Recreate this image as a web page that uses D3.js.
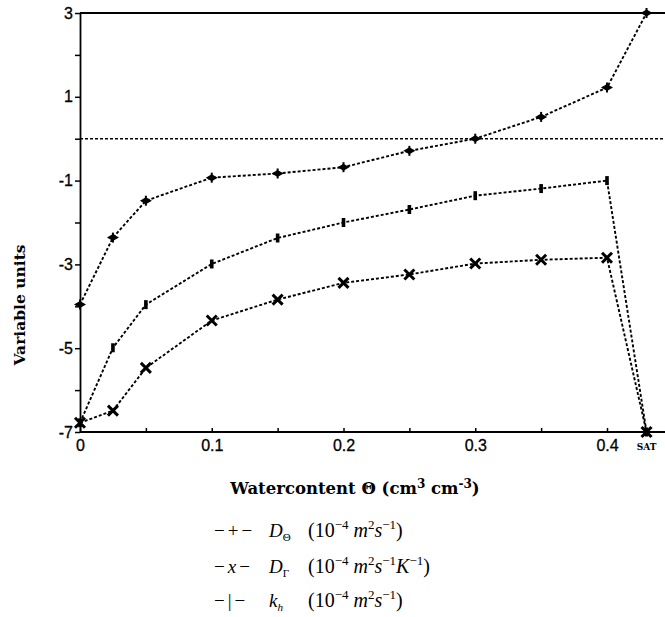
<!DOCTYPE html>
<html>
<head>
<meta charset="utf-8">
<script src="https://cdn.jsdelivr.net/npm/d3@7"></script>
<style>
  body { margin: 0; background: #fff; }
  svg { display: block; }
</style>
</head>
<body>
<div id="chart"></div>
<script>
// water content (SAT plotted at 0.43)
const theta = [0, 0.025, 0.05, 0.1, 0.15, 0.2, 0.25, 0.3, 0.35, 0.4, 0.43];
const dThetaVals = [-3.96, -2.36, -1.48, -0.93, -0.83, -0.68, -0.29, 0.0, 0.52, 1.22, 3.0];
const dTVals = [-6.78, -6.49, -5.47, -4.34, -3.84, -3.44, -3.24, -2.98, -2.89, -2.84, -7.0];
const khVals = [-6.78, -4.99, -3.96, -2.99, -2.37, -2.0, -1.69, -1.36, -1.19, -1.0, -7.0];
const xTicks = [0, 0.05, 0.1, 0.15, 0.2, 0.25, 0.3, 0.35, 0.4];
const xLabels = [0, 0.1, 0.2, 0.3, 0.4];
const yTicks = [-7, -6, -5, -4, -3, -2, -1, 0, 1, 2, 3];
const yLabels = [-7, -5, -3, -1, 1, 3];

const W = 665, H = 617;
const svg = d3.select("#chart").append("svg")
    .attr("width", W).attr("height", H);

const x = d3.scaleLinear().domain([0, 0.4]).range([80, 607]);
const y = d3.scaleLinear().domain([-7, 3]).range([432, 13]);

const sans = "'Liberation Sans', Arial, sans-serif";
const wideSerif = "'DejaVu Serif', serif";
const serif = "'Liberation Serif', 'Times New Roman', serif";

// frame: top line, zero reference line
svg.append("line")
    .attr("x1", x(0)).attr("x2", W)
    .attr("y1", y(3)).attr("y2", y(3))
    .attr("stroke", "#000").attr("stroke-width", 2);

svg.append("line")
    .attr("x1", x(0)).attr("x2", W)
    .attr("y1", y(0)).attr("y2", y(0))
    .attr("stroke", "#000").attr("stroke-width", 1.6)
    .attr("stroke-dasharray", "3,2");

// x axis
const xAxis = svg.append("g")
    .attr("transform", `translate(0,${y(-7)})`)
    .call(d3.axisBottom(x)
        .tickValues(xTicks)
        .tickSizeInner(-4).tickSizeOuter(0)
        .tickPadding(8)
        .tickFormat(d => xLabels.some(v => Math.abs(v - d) < 1e-9) ? +d.toFixed(2) : ""));
xAxis.select(".domain").remove();
xAxis.selectAll(".tick line").attr("stroke-width", 1.5);
xAxis.selectAll("text")
    .style("font-family", sans)
    .style("font-size", "16px").attr("fill", "#000")
    .attr("stroke", "#000").attr("stroke-width", 0.3);
xAxis.append("line")
    .attr("x1", x(0)).attr("x2", W)
    .attr("stroke", "#000").attr("stroke-width", 2);

svg.append("text")
    .attr("x", x(0.43)).attr("y", y(-7) + 18)
    .attr("text-anchor", "middle")
    .style("font-family", wideSerif)
    .style("font-weight", "bold").style("font-size", "9px")
    .text("SAT");

// y axis
const yAxis = svg.append("g")
    .attr("transform", `translate(${x(0)},0)`)
    .call(d3.axisLeft(y)
        .tickValues(yTicks)
        .tickSizeInner(5).tickSizeOuter(0)
        .tickPadding(2)
        .tickFormat(d => yLabels.includes(d) ? d : ""));
yAxis.select(".domain").attr("stroke-width", 1.8);
yAxis.selectAll(".tick line").attr("stroke-width", 1.5);
yAxis.selectAll("text")
    .style("font-family", sans)
    .style("font-size", "16px").attr("fill", "#000")
    .attr("stroke", "#000").attr("stroke-width", 0.3);

// axis titles
svg.append("text")
    .attr("transform", "translate(25,305) rotate(-90)")
    .attr("text-anchor", "middle")
    .style("font-family", wideSerif)
    .style("font-weight", "bold").style("font-size", "15.5px")
    .text("Variable units");

const xt = svg.append("text")
    .attr("x", 355).attr("y", 494)
    .attr("text-anchor", "middle")
    .style("font-family", wideSerif)
    .style("font-weight", "bold").style("font-size", "16.5px");
xt.append("tspan").text("Watercontent Θ (cm");
xt.append("tspan").attr("dy", -6).style("font-size", "12px").text("3");
xt.append("tspan").attr("dy", 6).text(" cm");
xt.append("tspan").attr("dy", -6).style("font-size", "12px").text("-3");
xt.append("tspan").attr("dy", 6).text(")");

// series
const series = [
    { name: "dTheta", values: dThetaVals, marker: "plus" },
    { name: "kh", values: khVals, marker: "bar" },
    { name: "dT", values: dTVals, marker: "cross" }
];

const line = d3.line().x(d => x(d[0])).y(d => y(d[1]));

series.forEach(s => {
    const pts = theta.map((t, i) => [t, s.values[i]]);
    svg.append("path")
        .datum(pts)
        .attr("d", line)
        .attr("fill", "none")
        .attr("stroke", "#000").attr("stroke-width", 1.9)
        .attr("stroke-dasharray", "3,2");

    const g = svg.append("g").selectAll("g")
        .data(pts).enter().append("g")
        .attr("transform", d => `translate(${x(d[0])},${y(d[1])})`);

    if (s.marker === "plus") {
        g.append("path").attr("d", "M-6,0L0,-3.5L6,0L0,3.5Z").attr("fill", "#000");
        g.append("path").attr("d", "M0,-5V5").attr("stroke", "#000").attr("stroke-width", 2);
    } else if (s.marker === "bar") {
        g.append("rect").attr("x", -1.8).attr("y", -4.5)
            .attr("width", 3.6).attr("height", 9).attr("fill", "#000");
    } else {
        g.append("path").attr("d", "M-5,-5L5,5M-5,5L5,-5")
            .attr("stroke", "#000").attr("stroke-width", 3);
    }
});

// legend
const legend = [
    { sym: ["−", "+", "−"], main: "D", sub: "Θ", unit: [["(10", 0], ["−4", 1], [" m", 2], ["2", 3], ["s", 2], ["−1", 3], [")", 0]] },
    { sym: ["−", "x", "−"], main: "D", sub: "Γ", unit: [["(10", 0], ["−4", 1], [" m", 2], ["2", 3], ["s", 2], ["−1", 3], ["K", 2], ["−1", 3], [")", 0]] },
    { sym: ["−", "|", "−"], main: "k", sub: "h", unit: [["(10", 0], ["−4", 1], [" m", 2], ["2", 3], ["s", 2], ["−1", 3], [")", 0]] }
];
const legendY = [537, 573, 607];

legend.forEach((l, i) => {
    const t1 = svg.append("text").attr("x", 214).attr("y", legendY[i])
        .style("font-family", serif).style("font-size", "19px")
        .style("letter-spacing", "3px");
    l.sym.forEach(s => t1.append("tspan").style("font-style", s === "x" ? "italic" : "normal").text(s));

    const t2 = svg.append("text").attr("x", 269).attr("y", legendY[i])
        .style("font-family", serif).style("font-size", "19px");
    t2.append("tspan").style("font-style", "italic").text(l.main);
    t2.append("tspan").attr("dy", 4).style("font-size", "11px")
        .style("font-style", l.sub === "h" ? "italic" : "normal").text(l.sub);

    const t3 = svg.append("text").attr("x", 308).attr("y", legendY[i])
        .style("font-family", serif).style("font-size", "20px");
    let sup = false;
    l.unit.forEach(([txt, kind]) => {
        const isSup = kind === 1 || kind === 3;
        const ts = t3.append("tspan").text(txt);
        if (isSup && !sup) ts.attr("dy", -8);
        if (!isSup && sup) ts.attr("dy", 8);
        if (isSup) ts.style("font-size", "13px");
        if (kind === 2) ts.style("font-style", "italic");
        sup = isSup;
    });
});
</script>
</body>
</html>
